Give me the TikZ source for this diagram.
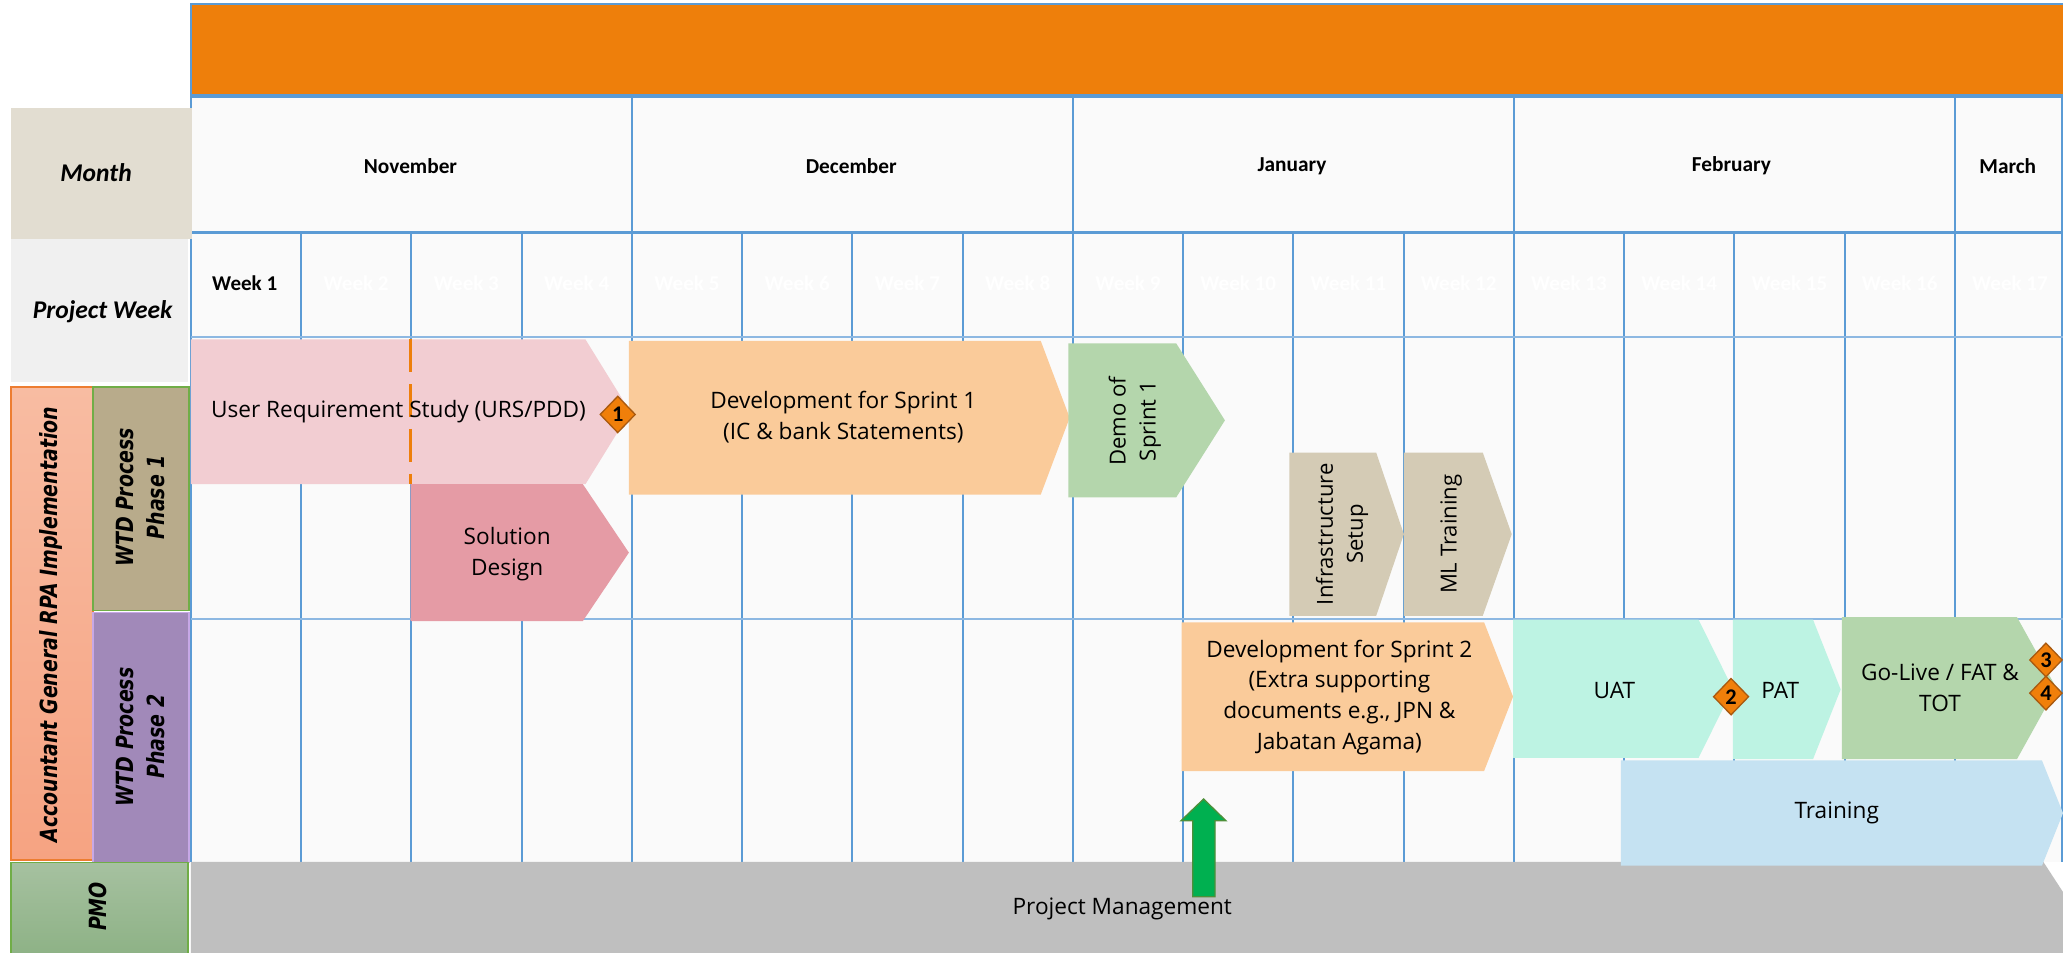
\documentclass[tikz,border=0pt]{standalone}
\usepackage{fontspec}
\setmainfont{Open Sans}
\newfontfamily\hdrfont{Carlito}
\newfontfamily\lblfont{DejaVu Sans}[FakeStretch=0.8]
\usetikzlibrary{shapes.geometric}

\definecolor{gridblue}{HTML}{5B9BD5}
\definecolor{gridlight}{HTML}{8DB8E2}
\definecolor{gridbg}{HTML}{FAFAFA}
\definecolor{hdrorange}{HTML}{EE7F0B}
\definecolor{ursPink}{HTML}{F2CDD2}
\definecolor{solPink}{HTML}{E59BA5}
\definecolor{peach}{HTML}{FACB9A}
\definecolor{sage}{HTML}{B4D6AC}
\definecolor{beige}{HTML}{D4CBB5}
\definecolor{mint}{HTML}{BDF3E3}
\definecolor{trainblue}{HTML}{C5E2F2}
\definecolor{pmgrey}{HTML}{BFBFBF}
\definecolor{arrowgreen}{HTML}{00B050}
\definecolor{arrowedge}{HTML}{4E8F3A}
\definecolor{msorange}{HTML}{F07F0A}
\definecolor{msborder}{HTML}{A95A10}
\definecolor{monthbox}{HTML}{E2DDD1}
\definecolor{weekbox}{HTML}{F0F0F0}
\definecolor{acctop}{HTML}{F8BCA2}
\definecolor{accbot}{HTML}{F6A382}
\definecolor{accedge}{HTML}{ED7D31}
\definecolor{phaseone}{HTML}{B8AB8B}
\definecolor{phasetwo}{HTML}{A189B9}
\definecolor{phasetwoedge}{HTML}{C7A8E6}
\definecolor{greenedge}{HTML}{70AD47}
\definecolor{pmotop}{HTML}{A6C1A0}
\definecolor{pmobot}{HTML}{8CB184}

% chevron: x-left, y-top, x-rect-end, x-tip, y-bottom, colour
\newcommand\taskchev[6]{\fill[#6] (#1,#2) -- (#3,#2) -- (#4,{(#2+#5)/2}) -- (#3,#5) -- (#1,#5) -- cycle;}

\begin{document}
\begin{tikzpicture}[x=0.5pt,y=-0.5pt,
  task/.style={font=\fontsize{8.6}{11.7}\selectfont, align=center, inner sep=0pt, text=black},
  vtask/.style={font=\fontsize{8.4}{11.4}\selectfont, align=center, inner sep=0pt, rotate=90, text=black},
  monthlbl/.style={font=\hdrfont\bfseries\fontsize{8.1}{10}\selectfont, inner sep=0pt},
  weeklbl/.style={font=\hdrfont\bfseries\fontsize{8}{10}\selectfont, text=white, inner sep=0pt},
  rowlbl/.style={font=\hdrfont\bfseries\itshape\fontsize{9.7}{11}\selectfont, inner sep=0pt},
  sidelbl/.style={font=\lblfont\bfseries\itshape\fontsize{9}{11.9}\selectfont, rotate=90, align=center, inner sep=0pt},
  mstone/.style={diamond, fill=msorange, draw=msborder, line width=0.5pt, inner sep=0pt,
     minimum width=13.5pt, minimum height=14pt, font=\hdrfont\bfseries\fontsize{8.5}{10}\selectfont},
  gridline/.style={draw=gridblue, line width=0.75pt},
  thickgrid/.style={draw=gridblue, line width=1.2pt},
  thingrid/.style={draw=gridlight, line width=0.7pt}
]
\useasboundingbox (0,0) rectangle (1568,724);
\begin{scope}
\clip (0,0) rectangle (1568,724);
\fill[white] (0,0) rectangle (1568,724);

% ---- header and grid background
\fill[gridbg] (145,73) rectangle (1568,655);
\fill[hdrorange] (145,3) rectangle (1568,73);
\draw[gridline] (1568,3) -- (145,3) -- (145,655);

% vertical week lines
\foreach \k in {1,...,16} {
  \draw[gridline] ({145+83.8*\k},177) -- ({145+83.8*\k},655);
}
% month dividers
\foreach \k in {4,8,12,16} {
  \draw[gridline] ({145+83.8*\k},73) -- ({145+83.8*\k},177);
}
\draw[gridline] (1567,73) -- (1567,655);
% horizontal lines
\draw[thickgrid] (145,73) -- (1568,73);
\draw[thickgrid] (145,177) -- (1568,177);
\draw[thingrid] (145,256) -- (1568,256);
\draw[thingrid] (145,470.5) -- (1568,470.5);

% month and week labels
\node[monthlbl] (mnov) at (312,126) {November};
\node[monthlbl] (mdec) at (647,126) {December};
\node[monthlbl] (mjan) at (982,126) {January};
\node[monthlbl] (mfeb) at (1316,126) {February};
\node[monthlbl] (mmar) at (1526,126) {March};
\node[weeklbl, text=black] (w1) at (186,215) {Week 1};
\foreach \k in {2,...,17} {
  \node[weeklbl] (w\k) at ({145+83.8*(\k-0.5)},215) {Week \k};
}

% ---- left column
\fill[monthbox] (8,82) rectangle (146,182);
\fill[weekbox] (8,182) rectangle (143,290);
\node[rowlbl] (lmonth) at (73,131) {Month};
\node[rowlbl] (lweek) at (78,237) {Project Week};
\shade[top color=acctop, bottom color=accbot] (8.5,294) rectangle (70.5,653.6);
\draw[accedge, line width=0.6pt] (8.5,294) rectangle (70.5,653.6);
\fill[phaseone] (70.5,294) rectangle (143.6,464);
\draw[greenedge, line width=0.6pt] (70.5,294) rectangle (143.6,464);
\fill[phasetwo] (70.5,465.5) rectangle (143.6,655.5);
\draw[phasetwoedge, line width=0.6pt] (70.5,465.5) rectangle (143.6,655.5);
\shade[top color=pmotop, bottom color=pmobot] (8.5,655.5) rectangle (143,730);
\draw[greenedge, line width=0.6pt] (8.5,655.5) rectangle (143,730);
\node[sidelbl] (lacc) at (39,474.6) {Accountant General RPA Implementation};
\node[sidelbl] (lph1) at (107,378) {WTD Process\\Phase 1};
\node[sidelbl] (lph2) at (107,560) {WTD Process\\Phase 2};
\node[sidelbl] (lpmo) at (74.6,689) {PMO};

% ---- bars
\taskchev{145}{655}{1553}{1598}{793}{pmgrey}
\taskchev{1232}{578}{1552}{1568}{658}{trainblue}
\taskchev{145}{258}{445}{479}{368}{ursPink}
\draw[hdrorange, line width=1.15pt, dash pattern=on 12.4pt off 4.6pt] (312,258) -- (312,368);
\taskchev{312}{368}{443}{478}{472}{solPink}
\taskchev{478}{259}{791}{813}{376}{peach}
\taskchev{812}{261}{894}{931}{378}{sage}
\taskchev{980}{344}{1046}{1067}{468}{beige}
\taskchev{1067}{344}{1127}{1149}{468}{beige}
\taskchev{898}{473}{1128}{1150}{586}{peach}
\taskchev{1150}{471}{1291}{1317}{576}{mint}
\taskchev{1317}{471}{1378}{1399}{577}{mint}
\taskchev{1400}{469}{1533}{1563}{577}{sage}

% green arrow
\filldraw[fill=arrowgreen, draw=arrowedge, line width=0.5pt]
  (906.6,681.5) -- (906.6,623.8) -- (897.6,623.8) -- (914.8,607.3)
  -- (931.8,623.8) -- (923.5,623.8) -- (923.5,681.5) -- cycle;

% ---- bar texts
\node[task, anchor=west] (urs) at (160,313) {User Requirement Study (URS/PDD)};
\node[task] (soldes) at (385.5,421) {Solution\\Design};
\node[task] (dev1) at (641,317) {Development for Sprint 1\\(IC \& bank Statements)};
\node[vtask] (demo1) at (862.6,320) {Demo of\\Sprint 1};
\node[vtask] (infra) at (1020,406) {Infrastructure\\Setup};
\node[vtask] (mltrain) at (1103,406) {ML Training};
\node[task] (dev2) at (1018,530) {Development for Sprint 2\\(Extra supporting\\documents e.g., JPN \&\\Jabatan Agama)};
\node[task] (uat) at (1227,524.5) {UAT};
\node[task] (pat) at (1353,524.5) {PAT};
\node[task] (golive) at (1474.5,523) {Go-Live / FAT \&\\TOT};
\node[task] (training) at (1396,618) {Training};
\node[task] (pm) at (853,691) {Project Management};

% ---- milestones
\node[mstone] (ms1) at (469.5,315) {1};
\node[mstone] (ms2) at (1315.7,529.5) {2};
\node[mstone, minimum width=12.5pt, minimum height=13pt] (ms3) at (1555,501.6) {3};
\node[mstone, minimum width=12.5pt, minimum height=13pt] (ms4) at (1555,526.8) {4};
\end{scope}
\end{tikzpicture}
\end{document}
